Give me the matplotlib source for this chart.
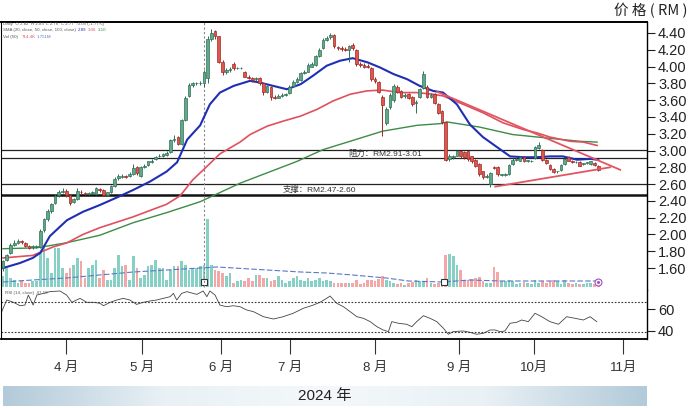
import numpy as np
import matplotlib
matplotlib.use("Agg")
import matplotlib.pyplot as plt
from matplotlib.colors import LinearSegmentedColormap

plt.rcParams['font.family'] = ['Liberation Sans', 'Noto Sans CJK SC', 'DejaVu Sans']

# ---------------- data (trading-day index 0..160) ----------------
opens = [1.60, 1.70, 1.78, 1.88, 1.90, 1.92, 1.90, 1.86, 1.85, 1.85,
         1.85, 2.05, 2.18, 2.28, 2.38, 2.47, 2.51, 2.52, 2.47, 2.39,
         2.42, 2.51, 2.49, 2.48, 2.49, 2.48, 2.54, 2.53, 2.47, 2.50,
         2.58, 2.67, 2.69, 2.70, 2.70, 2.72, 2.80, 2.70, 2.80, 2.83,
         2.86, 2.90, 2.93, 2.94, 2.95, 2.98, 3.12, 3.16, 3.08, 3.36,
         3.65, 3.78, 3.80, 3.80, 3.80, 3.86, 4.33, 4.42, 4.36, 4.06,
         3.93, 3.96, 4.03, 3.98, 3.98, 3.94, 3.88, 3.86, 3.85, 3.86,
         3.80, 3.70, 3.76, 3.64, 3.63, 3.65, 3.66, 3.68, 3.77, 3.82,
         3.84, 3.92, 3.94, 4.00, 4.02, 4.12, 4.22, 4.32, 4.35, 4.38,
         4.23, 4.22, 4.21, 4.20, 4.26, 4.20, 4.03, 4.02, 4.01, 3.98,
         3.85, 3.82, 3.64, 3.33, 3.52, 3.60, 3.76, 3.71, 3.65, 3.67,
         3.64, 3.56, 3.64, 3.75, 3.76, 3.64, 3.67, 3.55, 3.47, 3.34,
         2.90, 2.92, 2.94, 2.99, 2.98, 2.99, 2.93, 2.89, 2.84, 2.75,
         2.69, 2.60, 2.80, 2.80, 2.71, 2.71, 2.72, 2.84, 2.89, 2.88,
         2.92, 2.88, 2.87, 2.91, 3.03, 3.01, 2.89, 2.83, 2.78, 2.75,
         2.77, 2.84, 2.92, 2.88, 2.86, 2.86, 2.84, 2.85, 2.84, 2.85,
         2.82]
closes = [1.68, 1.75, 1.88, 1.90, 1.92, 1.91, 1.86, 1.84, 1.85, 1.86,
          2.04, 2.18, 2.28, 2.36, 2.46, 2.51, 2.52, 2.47, 2.38, 2.42,
          2.52, 2.50, 2.48, 2.48, 2.51, 2.55, 2.53, 2.47, 2.50, 2.58,
          2.66, 2.70, 2.70, 2.69, 2.72, 2.79, 2.73, 2.80, 2.82, 2.87,
          2.88, 2.92, 2.94, 2.96, 2.97, 3.12, 3.14, 3.08, 3.36, 3.63,
          3.78, 3.80, 3.80, 3.81, 3.94, 4.33, 4.40, 4.37, 4.06, 3.93,
          3.96, 3.97, 3.98, 3.98, 3.98, 3.88, 3.86, 3.84, 3.86, 3.80,
          3.70, 3.77, 3.64, 3.63, 3.65, 3.66, 3.67, 3.76, 3.82, 3.85,
          3.92, 3.94, 4.02, 4.03, 4.12, 4.20, 4.32, 4.34, 4.38, 4.24,
          4.22, 4.21, 4.20, 4.24, 4.22, 4.03, 4.02, 4.00, 4.00, 3.85,
          3.83, 3.70, 3.54, 3.50, 3.66, 3.77, 3.70, 3.64, 3.66, 3.63,
          3.55, 3.58, 3.73, 3.91, 3.64, 3.66, 3.57, 3.45, 3.34, 2.89,
          2.94, 2.93, 2.99, 2.93, 2.92, 2.90, 2.87, 2.82, 2.72, 2.68,
          2.70, 2.73, 2.79, 2.72, 2.71, 2.72, 2.83, 2.89, 2.90, 2.92,
          2.87, 2.88, 2.88, 3.04, 3.06, 2.89, 2.85, 2.78, 2.74, 2.75,
          2.83, 2.90, 2.88, 2.86, 2.86, 2.82, 2.84, 2.85, 2.87, 2.83,
          2.77]
highs = [1.70, 1.77, 1.90, 1.93, 1.94, 1.93, 1.91, 1.87, 1.87, 1.88,
         2.06, 2.20, 2.30, 2.38, 2.48, 2.53, 2.55, 2.54, 2.48, 2.44,
         2.55, 2.53, 2.51, 2.50, 2.52, 2.56, 2.55, 2.54, 2.51, 2.59,
         2.68, 2.72, 2.72, 2.71, 2.74, 2.84, 2.81, 2.81, 2.84, 2.88,
         2.90, 2.93, 2.96, 2.97, 2.99, 3.14, 3.18, 3.17, 3.38, 3.65,
         3.80, 3.82, 3.82, 3.83, 3.96, 4.36, 4.45, 4.44, 4.37, 4.08,
         3.98, 3.99, 4.05, 4.00, 3.99, 3.95, 3.90, 3.88, 3.88, 3.87,
         3.81, 3.78, 3.77, 3.66, 3.67, 3.68, 3.69, 3.78, 3.84, 3.87,
         3.94, 3.96, 4.04, 4.05, 4.14, 4.22, 4.34, 4.36, 4.40, 4.39,
         4.25, 4.24, 4.23, 4.26, 4.28, 4.21, 4.05, 4.04, 4.03, 3.99,
         3.87, 3.83, 3.66, 3.52, 3.68, 3.79, 3.78, 3.72, 3.68, 3.69,
         3.65, 3.60, 3.75, 3.95, 3.78, 3.68, 3.68, 3.56, 3.48, 3.35,
         2.96, 2.95, 3.01, 3.00, 2.99, 3.00, 2.94, 2.90, 2.85, 2.76,
         2.72, 2.74, 2.81, 2.81, 2.72, 2.73, 2.84, 2.91, 2.92, 2.93,
         2.93, 2.89, 2.89, 3.05, 3.10, 3.02, 2.90, 2.84, 2.79, 2.76,
         2.84, 2.91, 2.93, 2.89, 2.87, 2.87, 2.85, 2.86, 2.88, 2.86,
         2.83]
lows = [1.57, 1.68, 1.77, 1.86, 1.89, 1.89, 1.85, 1.83, 1.83, 1.84,
        1.84, 2.03, 2.16, 2.26, 2.36, 2.45, 2.49, 2.45, 2.35, 2.37,
        2.41, 2.48, 2.47, 2.47, 2.48, 2.47, 2.51, 2.46, 2.46, 2.49,
        2.57, 2.65, 2.67, 2.67, 2.69, 2.71, 2.71, 2.69, 2.79, 2.82,
        2.85, 2.89, 2.92, 2.92, 2.93, 2.97, 3.10, 3.06, 3.07, 3.35,
        3.64, 3.76, 3.78, 3.78, 3.76, 3.80, 4.30, 4.33, 4.04, 3.90,
        3.91, 3.94, 3.96, 3.97, 3.97, 3.87, 3.85, 3.82, 3.83, 3.78,
        3.66, 3.68, 3.60, 3.61, 3.62, 3.64, 3.65, 3.67, 3.76, 3.81,
        3.83, 3.91, 3.93, 3.99, 4.01, 4.11, 4.21, 4.31, 4.33, 4.22,
        4.20, 4.19, 4.18, 4.05, 4.20, 4.01, 4.00, 3.98, 3.98, 3.83,
        3.81, 3.68, 3.17, 3.30, 3.50, 3.58, 3.68, 3.62, 3.63, 3.61,
        3.53, 3.45, 3.62, 3.73, 3.62, 3.62, 3.55, 3.43, 3.32, 2.87,
        2.88, 2.90, 2.93, 2.91, 2.90, 2.88, 2.85, 2.80, 2.70, 2.66,
        2.67, 2.57, 2.78, 2.70, 2.70, 2.70, 2.71, 2.83, 2.88, 2.87,
        2.86, 2.86, 2.86, 2.90, 3.02, 2.88, 2.84, 2.77, 2.73, 2.73,
        2.76, 2.83, 2.87, 2.85, 2.85, 2.81, 2.83, 2.84, 2.83, 2.82,
        2.76]
volumes = [11, 19, 9, 7, 4, 7, 4, 4, 6, 6,
           34, 41, 29, 14, 39, 39, 19, 14, 19, 22,
           29, 26, 9, 19, 22, 27, 9, 17, 7, 7,
           19, 32, 21, 22, 7, 31, 19, 9, 12, 21,
           22, 27, 19, 19, 7, 17, 21, 21, 26, 22,
           17, 19, 19, 21, 22, 68, 22, 17, 16, 14,
           11, 14, 4, 6, 7, 6, 9, 6, 12, 12,
           9, 9, 6, 7, 11, 7, 4, 6, 9, 11,
           7, 6, 9, 6, 7, 9, 6, 7, 6, 4,
           4, 4, 4, 4, 4, 7, 3, 4, 7, 7,
           6, 8, 11, 7, 6, 4, 3, 4, 2, 4,
           5, 7, 6, 6, 9, 4, 3, 4, 5, 32,
           33, 31, 22, 17, 7, 7, 8, 9, 10, 6,
           4, 4, 20, 15, 6, 6, 7, 6, 3, 4,
           5, 4, 3, 7, 4, 6, 4, 6, 7, 6,
           3, 7, 4, 3, 4, 3, 3, 4, 4, 3,
           3]

ma_short_idx = [0, 4.6, 8, 10, 12.6, 17.2, 21.5, 26, 30.6, 35, 39.5, 44, 46.8, 49.5,
                53, 55.6, 58.3, 62, 66.4, 69, 72.6, 76.3, 80, 83.3, 87, 90.6, 94, 98,
                101.3, 105, 108.6, 112, 115.6, 118.3, 122, 125.5, 129, 132.8, 136.3,
                139.8, 143.5, 147, 150.5, 154.3, 157.8, 160]
ma_short = [1.60, 1.66, 1.72, 1.78, 1.98, 2.17, 2.27, 2.35, 2.44, 2.53, 2.63, 2.75, 2.86, 3.13,
            3.30, 3.55, 3.69, 3.77, 3.83, 3.81, 3.77, 3.73, 3.79, 3.89, 4.01, 4.07, 4.10, 4.05,
            3.99, 3.91, 3.85, 3.77, 3.71, 3.69, 3.55, 3.31, 3.16, 3.04, 2.93,
            2.92, 2.92, 2.93, 2.93, 2.89, 2.90, 2.89]
ma_mid_idx = [0, 8, 13.4, 17.2, 21.5, 26, 35, 44, 47.6, 51, 54.8, 58.3, 61, 63.7, 66.4,
              71, 75.3, 80, 84.4, 88.7, 93.3, 97.8, 102, 106.7, 111.3, 115.6, 118.3,
              123.7, 129, 134.4, 139.8, 143.5, 147, 152.4, 156, 159.7]
ma_mid = [1.72, 1.75, 1.85, 1.90, 2.00, 2.08, 2.21, 2.36, 2.46, 2.65, 2.81, 2.96, 3.03, 3.10, 3.19,
          3.29, 3.35, 3.41, 3.49, 3.59, 3.67, 3.71, 3.72, 3.69, 3.69, 3.67, 3.65,
          3.55, 3.45, 3.33, 3.25, 3.21, 3.16, 3.11, 3.10, 3.06]
ma_long_idx = [0, 9, 17, 26, 35, 44, 53, 63.7, 79, 86, 93.3, 102, 111.3, 117.5, 119.4,
               128, 137, 146, 155, 159.7]
ma_long = [1.83, 1.84, 1.90, 1.99, 2.14, 2.26, 2.39, 2.61, 2.87, 3.01, 3.11, 3.23, 3.30, 3.32, 3.34,
           3.28, 3.19, 3.15, 3.11, 3.10]

vol_ma_idx = [0, 8, 17, 26, 35, 44, 53, 57.5, 62, 71, 80, 87, 94, 103, 109, 118, 125.5, 134, 143.5, 160]
vol_ma = [5, 7, 9, 12, 15, 17, 19, 20, 19, 17, 15, 14, 12, 9, 6, 5, 7, 6, 6, 6]

rsi_idx = [-0.5, -0.35, 1.0, 2.8, 4.6, 5.9, 6.8, 8.1, 9.1, 10.8, 12.6, 15.3, 17.1, 18.5, 20.7,
           22.5, 24.3, 26.1, 27.0, 28.8, 30.6, 32.3, 34.1, 35.9, 37.7, 39.5, 41.3, 43.1, 44.9,
           45.8, 46.7, 48.0, 49.4, 52.1, 53.8, 54.8, 55.6, 57.0, 58.3, 60.1, 61.9, 63.7, 65.5,
           67.3, 70.0, 72.7, 75.3, 78.0, 80.7, 83.4, 85.2, 87.0, 87.9, 89.7, 91.5, 93.3, 95.1,
           96.9, 98.7, 100.5, 102.2, 103.6, 104.5, 106.3, 108.5, 109.9, 111.2, 113.0, 114.8,
           116.6, 118.4, 119.7, 121.0, 123.7, 125.5, 127.3, 129.1, 130.9, 132.3, 133.6, 134.9,
           136.3, 138.1, 139.4, 141.2, 143.0, 144.8, 147.0, 149.3, 151.5, 153.8, 156.0, 157.8, 159.6]
rsi = [51.5, 57.6, 68.2, 66.1, 63.0, 63.6, 72.7, 63.6, 72.7, 74.2, 75.8, 76.4, 72.7, 66.1, 69.7,
       66.1, 66.1, 65.2, 63.0, 66.1, 68.2, 69.7, 68.2, 64.2, 66.1, 67.3, 68.2, 69.7, 71.2,
       74.2, 68.2, 74.2, 75.8, 73.3, 76.4, 71.2, 76.4, 72.7, 63.6, 62.1, 63.0, 62.1, 59.1,
       57.6, 53.0, 50.9, 53.0, 56.1, 60.6, 63.6, 66.1, 69.7, 71.8, 65.2, 62.1, 57.6, 53.0,
       51.5, 48.5, 43.9, 40.9, 39.4, 48.5, 47.0, 46.1, 43.9, 48.5, 53.9, 51.5,
       48.5, 42.4, 37.0, 39.4, 40.0, 38.8, 37.0, 37.9, 40.9, 40.9, 39.4, 40.0,
       47.0, 47.9, 50.0, 48.5, 56.1, 53.0, 48.5, 46.1, 53.0, 51.5, 50.0, 53.0, 48.5]

resist_line_idx = [116.7, 165.9]
resist_line = [3.70, 2.77]
support_line_idx = [132.3, 163.2]
support_line = [2.57, 2.80]
levels_thin = [3.01, 2.91, 2.60]
level_thick = 2.47
event_idx = 54

price_ticks = [1.60, 1.80, 2.00, 2.20, 2.40, 2.60, 2.80, 3.00, 3.20, 3.40, 3.60, 3.80, 4.00, 4.20, 4.40]
rsi_ticks = [40, 60]
month_pos = [16.9, 37.4, 58.6, 77.2, 100.0, 122.6, 142.7, 166.7]
month_labels = ['4 月', '5 月', '6 月', '7 月', '8 月', '9 月', '10月', '11月']

# ---------------- layout helpers ----------------
W, H = 690, 408
fig = plt.figure(figsize=(W / 100, H / 100), dpi=100)
fig.patch.set_facecolor('white')


def rect(x0, y0, x1, y1):
    return [x0 / W, 1 - y1 / H, (x1 - x0) / W, (y1 - y0) / H]


XL = (-0.54, 173.1)
N = len(closes)
idx = np.arange(N)
o = np.array(opens); c = np.array(closes); hi = np.array(highs); lo = np.array(lows)
up = c >= o

# volume axes (behind)
axv = fig.add_axes(rect(1, 22, 647, 290))
axv.set_xlim(*XL)
axv.set_ylim(-3, 265)
axv.axis('off')
vcol = np.where(up, '#86d0c5', '#f3a7a6')
axv.bar(idx, volumes, width=0.72, color=vcol, linewidth=0, zorder=1)
axv.plot(vol_ma_idx, vol_ma, color='#5a78c8', lw=0.8, ls=(0, (5, 2)), zorder=2)
axv.plot([event_idx, 118.5], [5, 5], ls='none', marker='s', ms=4.5, mfc='white',
         mec='#333333', mew=0.8, zorder=3)
axv.plot([160], [5], ls='none', marker='o', ms=5, mfc='white', mec='#a050c0', mew=0.8, zorder=3)
axv.plot([160], [5], ls='none', marker='o', ms=1.2, color='#a050c0', zorder=4)

# price axes (front)
ax = fig.add_axes(rect(1, 22, 647, 290))
ax.patch.set_alpha(0)
ax.set_xlim(*XL)
ax.set_ylim(1.338, 4.531)
for s in ['bottom']:
    ax.spines[s].set_visible(False)
ax.spines['top'].set_linewidth(1.4)
ax.spines['right'].set_linewidth(1.0)
ax.spines['left'].set_linewidth(0.8)
ax.set_xticks([])
ax.yaxis.tick_right()
ax.set_yticks(price_ticks)
ax.set_yticklabels([f'{v:.2f}' for v in price_ticks])
ax.tick_params(axis='y', direction='out', length=6, width=0.8, pad=2, labelsize=10.5, colors='#222222')

for lv in levels_thin:
    ax.axhline(lv, color='#222222', lw=0.9, zorder=2)
ax.axhline(level_thick, color='#111111', lw=1.8, zorder=2)

ax.vlines(event_idx, 1.374, 4.531, colors='#888888', linestyles=(0, (2, 2)), lw=0.8, zorder=2)

# moving averages
ax.plot(ma_long_idx, ma_long, color='#3c8c46', lw=1.0, zorder=3)
ax.plot(ma_mid_idx, ma_mid, color='#e0505e', lw=1.2, zorder=3)
ax.plot(ma_short_idx, ma_short, color='#1f2fb4', lw=1.5, zorder=3)

# candles
edge = np.where(up, '#2f6f55', '#9a2a25')
body = np.where(up, '#5fa98a', '#e0554d')
ax.vlines(idx, lo, hi, colors=edge, lw=0.7, zorder=4)
bh = np.maximum(np.abs(c - o), 0.008)
ax.bar(idx, bh, bottom=np.minimum(o, c), width=0.72, color=body, edgecolor=edge,
       linewidth=0.5, zorder=5)

# trend lines
ax.plot(resist_line_idx, resist_line, color='#e25562', lw=1.3, zorder=6)
ax.plot(support_line_idx, support_line, color='#e25562', lw=1.3, zorder=6)

ax.text(92.7, 2.96, '阻力：RM2.91-3.01', fontsize=6, color='#333333', va='center', ha='left', zorder=7)
ax.text(75.3, 2.535, '支撑：RM2.47-2.60', fontsize=6, color='#333333', va='center', ha='left', zorder=7)

# RSI axes
axr = fig.add_axes(rect(1, 290, 647, 339))
axr.set_xlim(*XL)
axr.set_ylim(32.7, 77.3)
axr.spines['top'].set_visible(False)
axr.spines['bottom'].set_linewidth(1.3)
axr.spines['right'].set_linewidth(1.0)
axr.spines['left'].set_linewidth(0.8)
axr.plot(rsi_idx, rsi, color='#444444', lw=0.6)
axr.axhline(66.4, color='#333333', lw=0.8, ls=(0, (1.5, 1.5)))
axr.axhline(39.1, color='#333333', lw=0.8, ls=(0, (1.5, 1.5)))
axr.yaxis.tick_right()
axr.set_yticks(rsi_ticks)
axr.set_yticklabels([str(v) for v in rsi_ticks])
axr.tick_params(axis='y', direction='out', length=6, width=0.8, pad=2, labelsize=10.5, colors='#222222')
axr.set_xticks(month_pos)
axr.set_xticklabels(month_labels)
axr.tick_params(axis='x', direction='out', length=10.5, width=0.8, pad=6, labelsize=9.5,
                colors='#333333')
axr.text(0.5, 75.0, 'RSI (14, close)  47.19', fontsize=3.2, color='#555555', va='center')

# header legend texts (tiny)
fig.text(3 / W, 1 - 24 / H, 'Daily  O 2.82  H 2.83  L 2.76  C 2.77  -0.05 (-1.77%)',
         fontsize=3.2, color='#555555', va='center')
fig.text(3 / W, 1 - 30 / H, 'SMA (20, close, 50, close, 100, close)', fontsize=3.2,
         color='#555555', va='center')
fig.text(78 / W, 1 - 30 / H, '2.89', fontsize=3.2, color='#1f2fb4', va='center')
fig.text(88 / W, 1 - 30 / H, '3.06', fontsize=3.2, color='#e0505e', va='center')
fig.text(98 / W, 1 - 30 / H, '3.10', fontsize=3.2, color='#3c8c46', va='center')
fig.text(3 / W, 1 - 37 / H, 'Vol (50)', fontsize=3.2, color='#555555', va='center')
fig.text(22 / W, 1 - 37 / H, '714.4K', fontsize=3.2, color='#e0505e', va='center')
fig.text(37 / W, 1 - 37 / H, '1.751M', fontsize=3.2, color='#5a78c8', va='center')

# title
fig.text(688 / W, 1 - 11 / H, '价 格 ( RM )', fontsize=10.5, color='#222222',
         ha='right', va='center', family=['Noto Sans CJK SC', 'DejaVu Sans'])

# bottom banner
axb = fig.add_axes(rect(3, 386, 647, 406))
cmap = LinearSegmentedColormap.from_list('band', ['#b2cad9', '#e9f1f5', '#f4f8fa', '#e9f1f5', '#b2cad9'])
axb.imshow(np.linspace(0, 1, 256)[None, :], aspect='auto', cmap=cmap, extent=[0, 1, 0, 1])
axb.axis('off')
axb.text(0.5, 0.5, '2024 年', ha='center', va='center', fontsize=11, color='#222222',
         transform=axb.transAxes)

fig.savefig('out.png', dpi=100, facecolor='white')
